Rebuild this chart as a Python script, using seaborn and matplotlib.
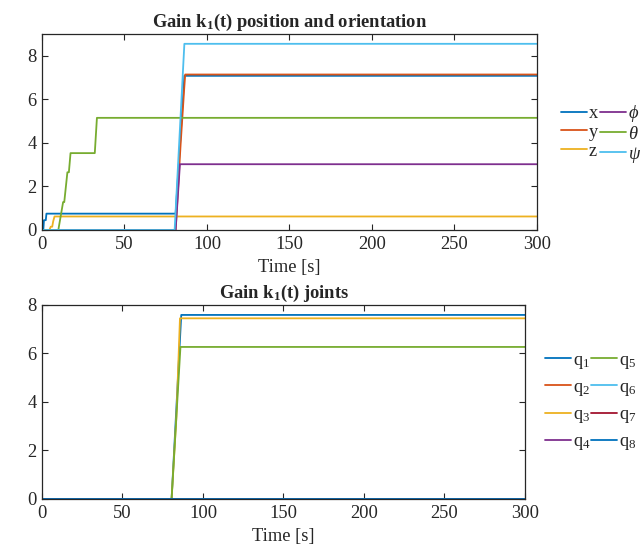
import matplotlib
matplotlib.use("Agg")
import matplotlib.pyplot as plt
import seaborn as sns
import pandas as pd

# --- Data (time [s], gain) ---
t_x = [0, 0.8, 1.2, 2.3, 2.7, 81, 86.3, 300]
k_x = [0, 0, 0.45, 0.45, 0.75, 0.75, 7.08, 7.08]
t_y = [0, 81, 84, 86.2, 86.8, 300]
k_y = [0, 0, 3.9, 6.5, 7.14, 7.14]
t_z = [0, 4.5, 5.3, 6.2, 6.8, 7.6, 300]
k_z = [0, 0, 0.15, 0.15, 0.4, 0.62, 0.62]
t_phi = [0, 81, 83.6, 300]
k_phi = [0, 0, 3.02, 3.02]
t_theta = [0, 9.9, 12.8, 13.5, 15.4, 16.3, 17.3, 32, 33.3, 300]
k_theta = [0, 0, 1.28, 1.28, 2.65, 2.65, 3.53, 3.53, 5.15, 5.15]
t_psi = [0, 80.4, 86.3, 300]
k_psi = [0, 0, 8.55, 8.55]

t_q1 = [0, 80.5, 86.5, 300]
k_q1 = [0, 0, 7.59, 7.59]
t_q3 = [0, 80.5, 83.5, 85.7, 300]
k_q3 = [0, 0, 3.4, 7.45, 7.45]
t_q5 = [0, 80.5, 86.0, 300]
k_q5 = [0, 0, 6.27, 6.27]
t_flat = [0, 300]
k_flat = [0, 0]

pose_labels = ['x', 'y', 'z', r'$\phi$', r'$\theta$', r'$\psi$']
joint_labels = [f'q$_{i}$' for i in range(1, 9)]

# MATLAB default colour order
mcolors = ['#0072BD', '#D95319', '#EDB120', '#7E2F8E', '#77AC30', '#4DBEEE', '#A2142F']

# --- Style ---
sns.set_style('ticks')
plt.rcParams['font.family'] = ['Liberation Serif', 'DejaVu Serif']
plt.rcParams['mathtext.fontset'] = 'custom'
plt.rcParams['mathtext.rm'] = 'Liberation Serif'
plt.rcParams['mathtext.it'] = 'Liberation Serif:italic'
plt.rcParams['mathtext.bf'] = 'Liberation Serif:bold'
fs = 13.3
plt.rcParams['font.size'] = fs
dark = '#262626'

fig = plt.figure(figsize=(6.4, 5.46), dpi=100)
ax1 = fig.add_axes([0.0656, 0.5788, 0.7734, 0.3589])
ax2 = fig.add_axes([0.0656, 0.0861, 0.7547, 0.3553])

pose = [(t_x, k_x), (t_y, k_y), (t_z, k_z), (t_phi, k_phi), (t_theta, k_theta), (t_psi, k_psi)]
for i, (t, k) in enumerate(pose):
    sns.lineplot(x=t, y=k, ax=ax1, color=mcolors[i % 7], label=pose_labels[i],
                 linewidth=1.3, estimator=None, sort=False)

joints = [(t_q1, k_q1), (t_flat, k_flat), (t_q3, k_q3), (t_flat, k_flat),
          (t_q5, k_q5), (t_flat, k_flat), (t_flat, k_flat), (t_flat, k_flat)]
for i, (t, k) in enumerate(joints):
    sns.lineplot(x=t, y=k, ax=ax2, color=mcolors[i % 7], label=joint_labels[i],
                 linewidth=1.3, estimator=None, sort=False)

for ax, ymax in [(ax1, 9), (ax2, 8)]:
    ax.set_xlim(0, 300)
    ax.set_ylim(0, ymax)
    ax.set_xticks([0, 50, 100, 150, 200, 250, 300])
    ax.set_yticks([0, 2, 4, 6, 8])
    ax.tick_params(direction='in', top=True, right=True, length=4, width=0.8,
                   colors=dark, labelsize=fs, pad=4)
    for s in ax.spines.values():
        s.set_visible(True)
        s.set_color(dark)
        s.set_linewidth(0.9)
    ax.set_xlabel('Time [s]', fontsize=fs, color=dark, labelpad=5)
    ax.set_ylabel('')

ax1.set_title(r'Gain k$_\mathbf{1}$(t) position and orientation', fontsize=fs,
              fontweight='bold', pad=5)
ax2.set_title(r'Gain k$_\mathbf{1}$(t) joints', fontsize=fs, fontweight='bold', pad=5)

ax1.legend(loc='center left', bbox_to_anchor=(1.034, 0.49), ncol=2, frameon=False,
           handlelength=1.4, handletextpad=0.1, columnspacing=0.1,
           labelspacing=0.1, borderaxespad=0, fontsize=fs)
ax2.legend(loc='center left', bbox_to_anchor=(1.026, 0.5), ncol=2, frameon=False,
           handlelength=1.4, handletextpad=0.1, columnspacing=0.05,
           labelspacing=0.45, borderaxespad=0, fontsize=fs)

fig.savefig('out.png', dpi=100)
plt.close(fig)
